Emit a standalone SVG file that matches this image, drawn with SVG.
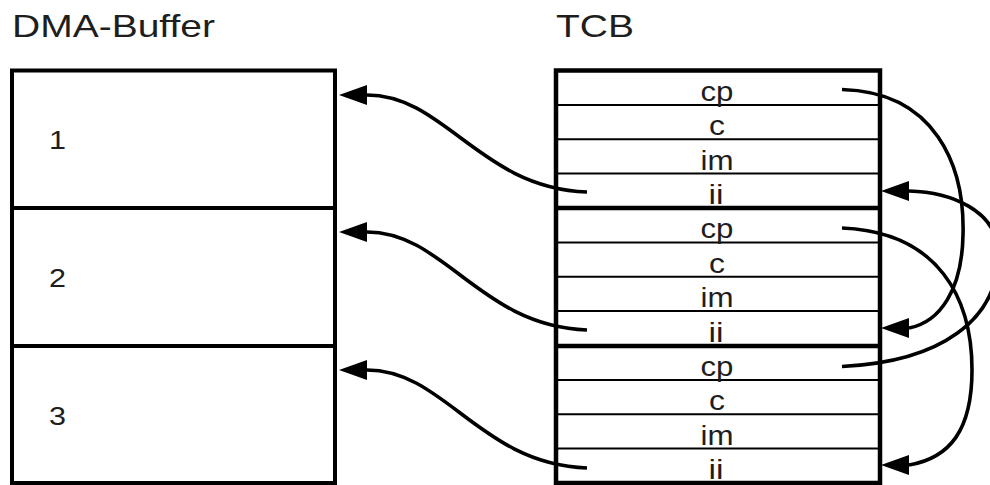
<svg xmlns="http://www.w3.org/2000/svg" width="990" height="485" viewBox="0 0 990 485">
  <defs>
    <!-- all arrowheads point left; the path ends at the arrowhead base -->
    <marker id="head" markerUnits="userSpaceOnUse" markerWidth="32" markerHeight="24" viewBox="0 -12 32 24" refX="28" refY="0" orient="0">
      <path d="M0,0 L28,-10 L28,10 Z" fill="#000"/>
    </marker>
    <style>
      text { font-family: "Liberation Sans", Arial, Helvetica, sans-serif; fill: #1e1e1e; }
      .title { font-size: 31.5px; }
      .num { font-size: 26px; }
      .lbl { font-size: 27px; text-anchor: middle; }
      .seg { fill: #fff; stroke: #000; stroke-width: 4; }
      .outer { fill: #fff; stroke: #000; stroke-width: 4.5; }
      .thin { stroke: #000; stroke-width: 2; }
      .thick { stroke: #000; stroke-width: 4.5; }
      .link { fill: none; stroke: #000; stroke-width: 3.6; marker-end: url(#head); }
    </style>
  </defs>

  <rect width="990" height="485" fill="#fff"/>

  <text class="title" x="12" y="37" textLength="203" lengthAdjust="spacingAndGlyphs">DMA-Buffer</text>
  <text class="title" x="556" y="37" textLength="78" lengthAdjust="spacingAndGlyphs">TCB</text>

  <!-- DMA buffer segments -->
  <g id="dma-1">
    <rect class="seg" x="12" y="70.5" width="323" height="137.5"/>
    <text class="num" x="49" y="149" textLength="17" lengthAdjust="spacingAndGlyphs">1</text>
  </g>
  <g id="dma-2">
    <rect class="seg" x="12" y="208" width="323" height="138"/>
    <text class="num" x="49" y="287" textLength="17" lengthAdjust="spacingAndGlyphs">2</text>
  </g>
  <g id="dma-3">
    <rect class="seg" x="12" y="346" width="323" height="137"/>
    <text class="num" x="49" y="425" textLength="17" lengthAdjust="spacingAndGlyphs">3</text>
  </g>

  <!-- TCB table -->
  <rect class="outer" x="556" y="70.5" width="324" height="412.5"/>
  <g id="tcb-1">
    <line class="thin" x1="556" y1="104.9" x2="880" y2="104.9"/>
    <line class="thin" x1="556" y1="139.3" x2="880" y2="139.3"/>
    <line class="thin" x1="556" y1="173.6" x2="880" y2="173.6"/>
    <text class="lbl" x="717" y="100.9" textLength="33" lengthAdjust="spacingAndGlyphs">cp</text>
    <text class="lbl" x="717" y="135.3" textLength="16" lengthAdjust="spacingAndGlyphs">c</text>
    <text class="lbl" x="717" y="169.6" textLength="33" lengthAdjust="spacingAndGlyphs">im</text>
    <text class="lbl" x="716" y="204" textLength="15" lengthAdjust="spacingAndGlyphs">ii</text>
  </g>
  <g id="tcb-2">
    <line class="thick" x1="556" y1="208" x2="880" y2="208"/>
    <line class="thin" x1="556" y1="242.4" x2="880" y2="242.4"/>
    <line class="thin" x1="556" y1="276.8" x2="880" y2="276.8"/>
    <line class="thin" x1="556" y1="311.1" x2="880" y2="311.1"/>
    <text class="lbl" x="717" y="238.4" textLength="33" lengthAdjust="spacingAndGlyphs">cp</text>
    <text class="lbl" x="717" y="272.8" textLength="16" lengthAdjust="spacingAndGlyphs">c</text>
    <text class="lbl" x="717" y="307.1" textLength="33" lengthAdjust="spacingAndGlyphs">im</text>
    <text class="lbl" x="716" y="341.5" textLength="15" lengthAdjust="spacingAndGlyphs">ii</text>
  </g>
  <g id="tcb-3">
    <line class="thick" x1="556" y1="346" x2="880" y2="346"/>
    <line class="thin" x1="556" y1="379.9" x2="880" y2="379.9"/>
    <line class="thin" x1="556" y1="414.3" x2="880" y2="414.3"/>
    <line class="thin" x1="556" y1="448.6" x2="880" y2="448.6"/>
    <text class="lbl" x="717" y="375.9" textLength="33" lengthAdjust="spacingAndGlyphs">cp</text>
    <text class="lbl" x="717" y="410.3" textLength="16" lengthAdjust="spacingAndGlyphs">c</text>
    <text class="lbl" x="717" y="444.6" textLength="33" lengthAdjust="spacingAndGlyphs">im</text>
    <text class="lbl" x="716" y="479" textLength="15" lengthAdjust="spacingAndGlyphs">ii</text>
  </g>

  <!-- connectors -->
  <g id="connectors">
    <!-- ii -> DMA segment -->
    <path class="link" d="M587,192 C480,188 445,95 367,95"/>
    <path class="link" d="M587,330 C480,326 445,232 367,232"/>
    <path class="link" d="M587,468 C480,464 445,370 367,370"/>
    <!-- cp -> ii of the next block -->
    <path class="link" d="M842,89.5 C935,92 965,165 963,235 C962,290 940,322 909,328"/>
    <path class="link" d="M842,228 C940,232 972,300 972,370 C972,430 950,458 909,465"/>
    <path class="link" d="M842,366.5 C940,362 1000,320 998,252 C997,210 950,192 909,191"/>
  </g>
</svg>
